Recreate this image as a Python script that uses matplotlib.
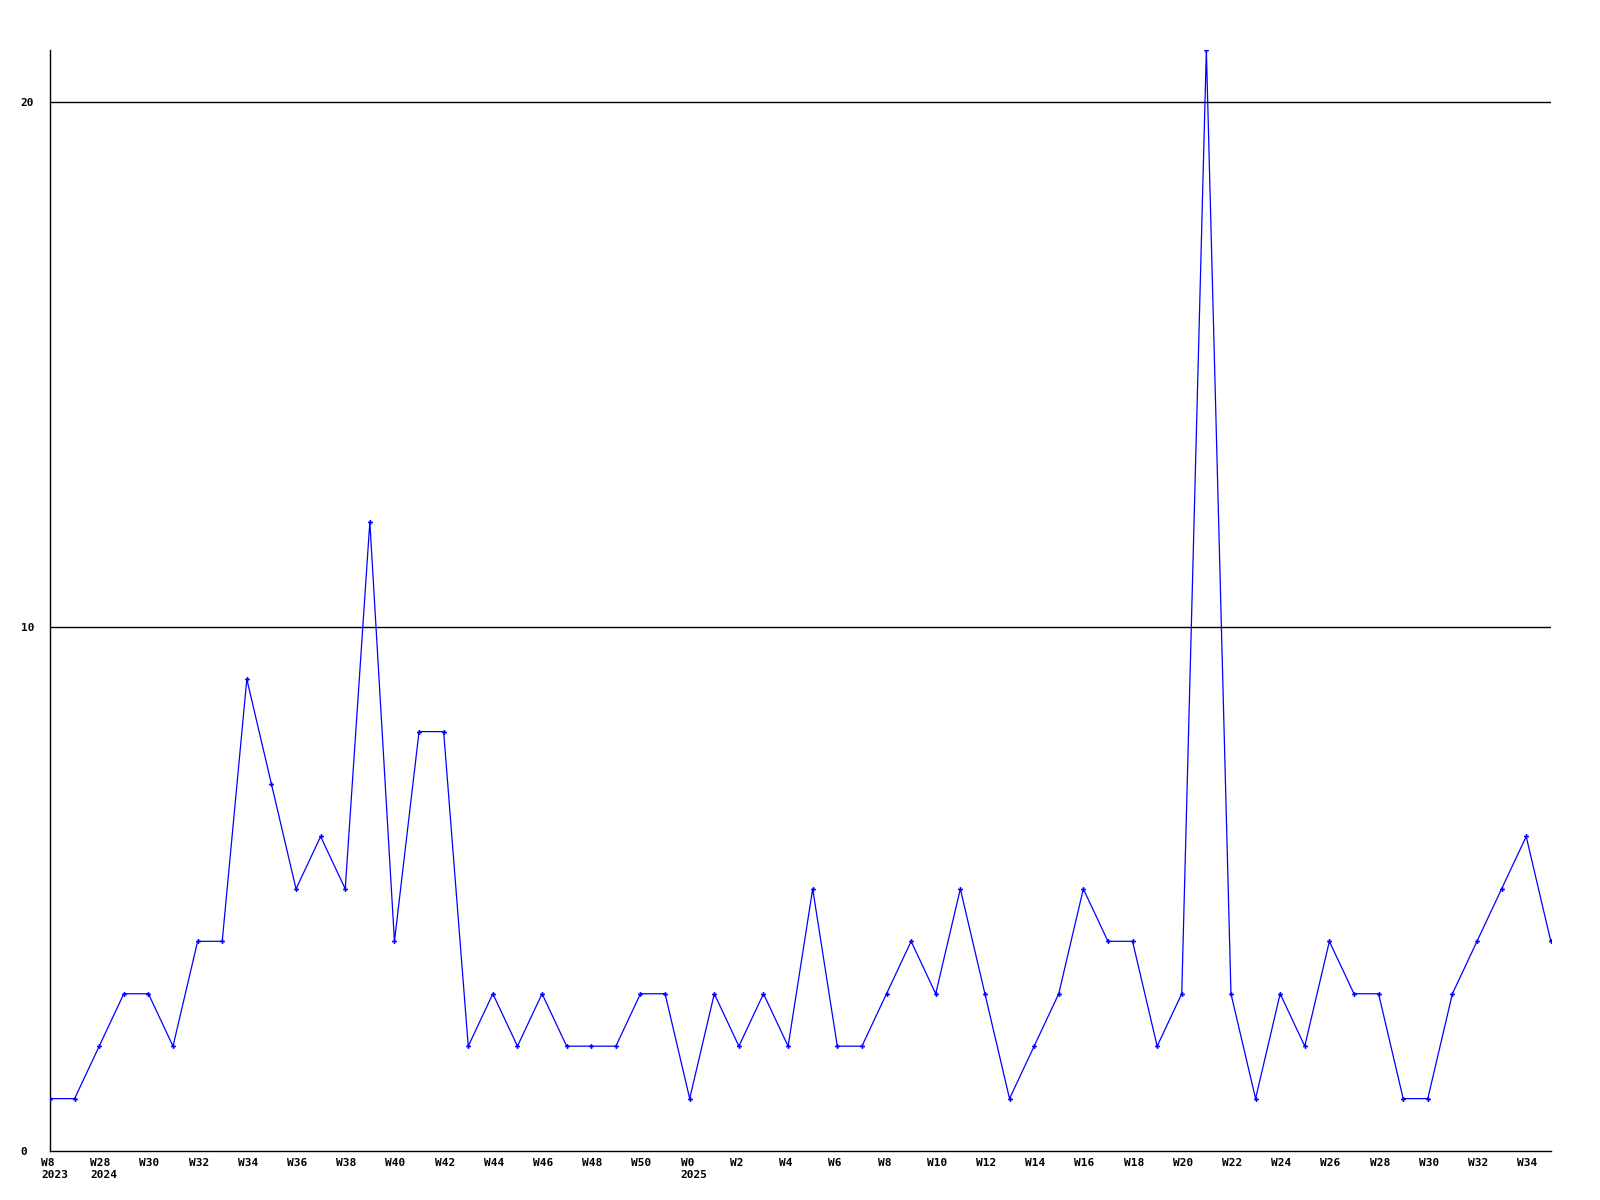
import matplotlib
matplotlib.use('Agg')
import matplotlib.pyplot as plt
import matplotlib.transforms as mtransforms

# weekly counts, one point per week
values = [1, 1, 2, 3, 3, 2, 4, 4, 9, 7, 5, 6, 5, 12, 4, 8, 8, 2, 3, 2,
          3, 2, 2, 2, 3, 3, 1, 3, 2, 3, 2, 5, 2, 2, 3, 4, 3, 5, 3, 1,
          2, 3, 5, 4, 4, 2, 3, 21, 3, 1, 3, 2, 4, 3, 3, 1, 1, 3, 4, 5,
          6, 4]

# labels on every second week
tick_labels = ['W8\n2023', 'W28\n2024', 'W30', 'W32', 'W34', 'W36', 'W38', 'W40',
               'W42', 'W44', 'W46', 'W48', 'W50', 'W0\n2025', 'W2', 'W4', 'W6',
               'W8', 'W10', 'W12', 'W14', 'W16', 'W18', 'W20', 'W22', 'W24',
               'W26', 'W28', 'W30', 'W32', 'W34']
y_ticks = [0, 10, 20]

x = list(range(len(values)))

fig = plt.figure(figsize=(16, 12), dpi=100)
ax = fig.add_axes([0.03125, 0.0408, 0.938, 0.9175])

for yv in y_ticks[1:]:
    ax.axhline(yv, color='black', linewidth=1.0, zorder=1)

ax.plot(x, values, color='#0000ff', linewidth=0.9, marker='P', markersize=3.5,
        markeredgewidth=0, zorder=3)

ax.set_xlim(0, len(values) - 1)
ax.set_ylim(0, 21)

ax.spines['top'].set_visible(False)
ax.spines['right'].set_visible(False)
ax.spines['left'].set_linewidth(1.0)
ax.spines['bottom'].set_linewidth(1.0)

ax.set_xticks(x[::2])
ax.set_xticklabels(tick_labels, fontfamily='DejaVu Sans Mono', fontweight='bold',
                   fontsize=8, ha='left', va='top', linespacing=1.25)
ax.set_yticks(y_ticks)
ax.set_yticklabels([str(v) for v in y_ticks], fontfamily='DejaVu Sans Mono',
                   fontweight='bold', fontsize=8, ha='left')
ax.tick_params(axis='x', length=0, pad=5)
ax.tick_params(axis='y', length=0, pad=21)

# shift week labels a little left of their point
offset = mtransforms.ScaledTranslation(-9 / 100, 0, fig.dpi_scale_trans)
for lbl in ax.get_xticklabels():
    lbl.set_transform(lbl.get_transform() + offset)

fig.savefig('out.png', dpi=100)
